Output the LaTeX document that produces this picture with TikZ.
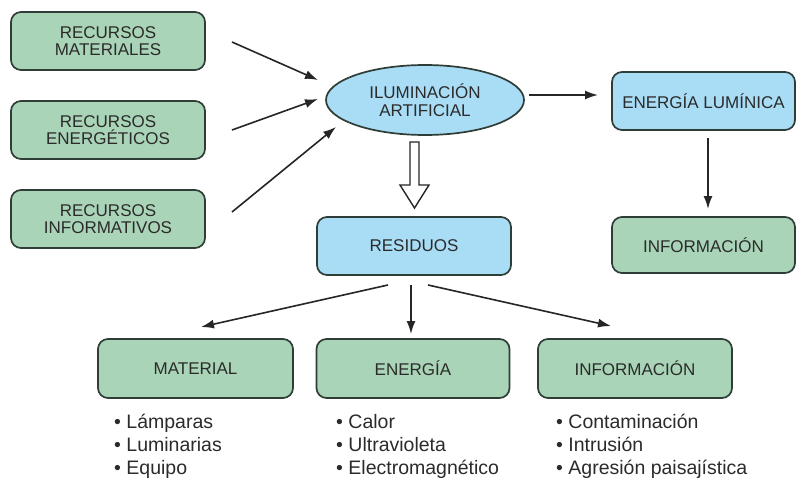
\documentclass[tikz,border=0pt]{standalone}
\usepackage{fontspec}
\setmainfont{Liberation Sans}
\usetikzlibrary{arrows.meta,shapes.geometric}
\definecolor{gfill}{HTML}{A9D4B7}
\definecolor{bfill}{HTML}{A9DDF6}
\definecolor{edgec}{HTML}{2F3D37}
\definecolor{txt}{HTML}{2B2B2B}
\begin{document}
\begin{tikzpicture}[x=1pt,y=-1pt,
  box/.style={draw=edgec, line width=1.7pt, rounded corners=10pt, inner sep=0pt,
    align=center, text=txt, font=\fontsize{17}{17}\selectfont},
  gbox/.style={box, fill=gfill},
  bbox/.style={box, fill=bfill},
  arr/.style={line width=1.6pt, draw=black!85, -{Latex[length=13pt,width=9pt]}},
  item/.style={anchor=base west, inner sep=0pt, text=txt, font=\fontsize{19.5}{23}\selectfont}]
\useasboundingbox (0,0) rectangle (796,479);
\fill[white] (0,0) rectangle (796,479);

% left inputs
\node[gbox, minimum width=194pt, minimum height=58pt] (rm) at (108,41) {RECURSOS\\MATERIALES};
\node[gbox, minimum width=194pt, minimum height=58pt] (re) at (108,130) {RECURSOS\\ENERGÉTICOS};
\node[gbox, minimum width=194pt, minimum height=58pt] (ri) at (108,219) {RECURSOS\\INFORMATIVOS};

% central ellipse
\node[ellipse, draw=edgec, line width=1.7pt, fill=bfill, minimum width=198pt, minimum height=70pt,
  inner sep=0pt, align=center, text=txt, font=\fontsize{17}{18}\selectfont] (ilum) at (425,100) {ILUMINACIÓN\\ARTIFICIAL};

% right column
\node[bbox, minimum width=183pt, minimum height=58pt] (el) at (703.5,101) {ENERGÍA LUMÍNICA};
\node[gbox, minimum width=183pt, minimum height=56pt] (info) at (703.5,245) {INFORMACIÓN};

% residuos
\node[bbox, minimum width=194pt, minimum height=58pt] (res) at (414,246) {RESIDUOS};

% bottom row
\node[gbox, minimum width=195pt, minimum height=59pt] (mat) at (195.5,368.5) {MATERIAL};
\node[gbox, minimum width=193pt, minimum height=59pt] (ene) at (413,368.5) {ENERGÍA};
\node[gbox, minimum width=194pt, minimum height=59pt] (inf) at (635,368.5) {INFORMACIÓN};

% bullet lists
\node[item] (m1) at (114,428) {• Lámparas};
\node[item] (m2) at (114,451) {• Luminarias};
\node[item] (m3) at (114,474) {• Equipo};
\node[item] (e1) at (336,428) {• Calor};
\node[item] (e2) at (336,451) {• Ultravioleta};
\node[item] (e3) at (336,474) {• Electromagnético};
\node[item] (i1) at (556,428) {• Contaminación};
\node[item] (i2) at (556,451) {• Intrusión};
\node[item] (i3) at (556,474) {• Agresión paisajística};

% connector end points
\coordinate (a1s) at (232,42);  \coordinate (a1e) at (318,80);
\coordinate (a2s) at (232,130); \coordinate (a2e) at (318,99);
\coordinate (a3s) at (232,212); \coordinate (a3e) at (336,127);
\coordinate (b1s) at (529,95);  \coordinate (b1e) at (598,95);
\coordinate (c1s) at (708,138); \coordinate (c1e) at (708,209);
\coordinate (d1s) at (388,285); \coordinate (d1e) at (201,327);
\coordinate (d2s) at (411,285); \coordinate (d2e) at (411,334);
\coordinate (d3s) at (428,285); \coordinate (d3e) at (611,326);
\coordinate (oa) at (414.5,142); \coordinate (ob) at (414.5,208);

\draw[arr] (a1s) -- (a1e);
\draw[arr] (a2s) -- (a2e);
\draw[arr] (a3s) -- (a3e);
\draw[arr] (b1s) -- (b1e);
\draw[arr] (c1s) -- (c1e);
\draw[arr] (d1s) -- (d1e);
\draw[arr] (d2s) -- (d2e);
\draw[arr] (d3s) -- (d3e);

% open block arrow from ellipse to residuos
\draw[line width=1.4pt, draw=black!85, fill=white, line join=miter]
  ([xshift=-4.5pt]oa) -- ([xshift=4.5pt]oa) -- ([xshift=4.5pt]oa |- 0,185)
  -- ([xshift=14.5pt]oa |- 0,185) -- (ob) -- ([xshift=-14.5pt]oa |- 0,185)
  -- ([xshift=-4.5pt]oa |- 0,185) -- cycle;
\end{tikzpicture}
\end{document}
